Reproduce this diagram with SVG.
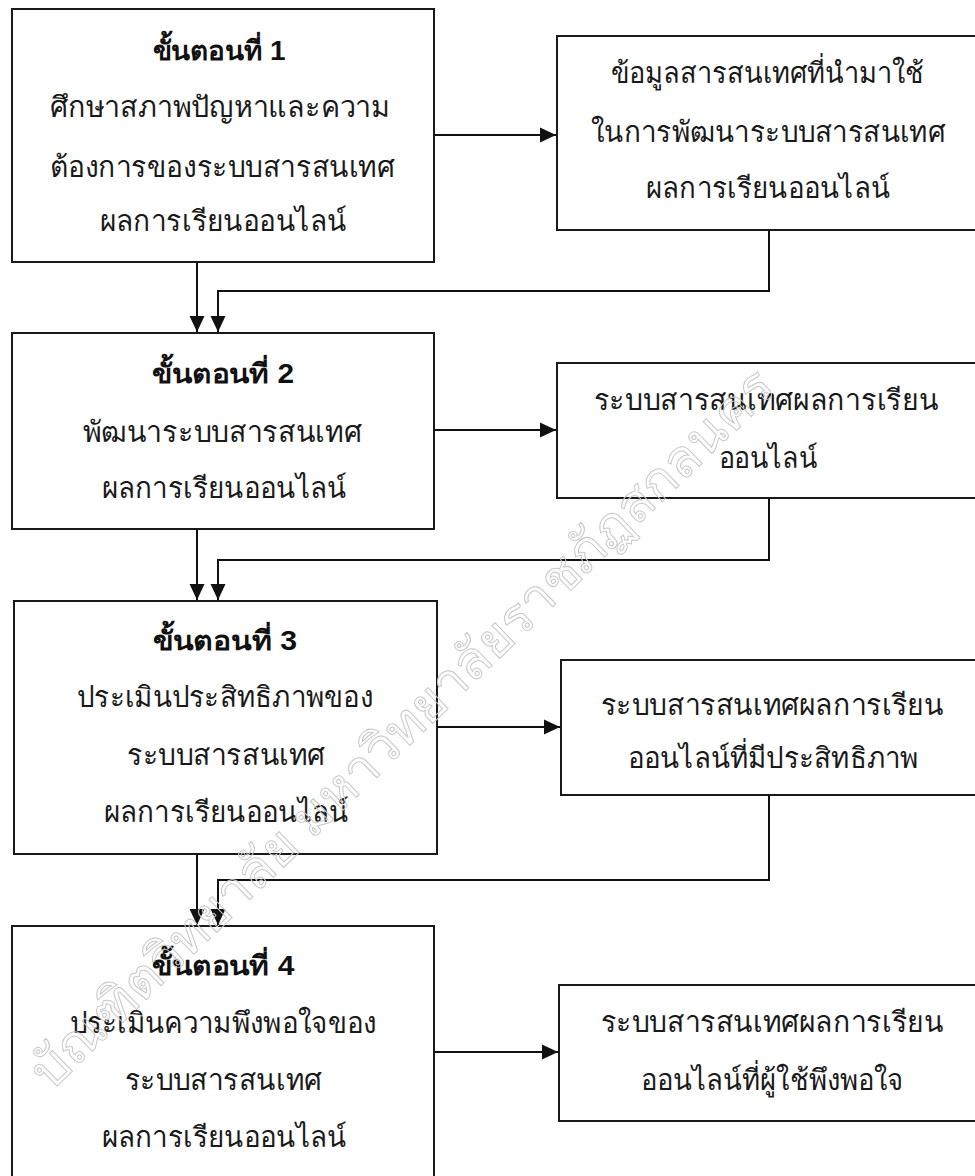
<svg xmlns="http://www.w3.org/2000/svg" width="975" height="1176" viewBox="0 0 975 1176">
<style>
.box{fill:#fff;stroke:#1a1a1a;stroke-width:2}
.t{font-family:"Liberation Sans","DejaVu Sans","Noto Sans",sans-serif;font-size:29px;fill:#1a1a1a;text-anchor:middle}
.h{font-weight:bold;font-size:27px;fill:#111}
.ln{fill:none;stroke:#111;stroke-width:2}
.wm{font-family:"Liberation Sans","DejaVu Sans","Noto Sans",sans-serif;font-size:52px;fill:none;stroke:#c8c8c8;stroke-width:1;text-anchor:middle}
</style>
<defs>
<marker id="ah" markerUnits="userSpaceOnUse" markerWidth="17" markerHeight="17" viewBox="0 0 17 17" refX="16" refY="8.5" orient="auto">
<path d="M0,1 L16,8.5 L0,16 Z" fill="#111"/>
</marker>
</defs>
<rect width="975" height="1176" fill="#fff"/>

<g id="step1">
<rect class="box" x="12" y="9" width="422" height="253"/>
<text class="t h" x="219" y="60" textLength="133" lengthAdjust="spacingAndGlyphs">ขั้นตอนที่ 1</text>
<text class="t" x="220" y="117" textLength="340" lengthAdjust="spacingAndGlyphs">ศึกษาสภาพปัญหาและความ</text>
<text class="t" x="222" y="177" textLength="345" lengthAdjust="spacingAndGlyphs">ต้องการของระบบสารสนเทศ</text>
<text class="t" x="223" y="231" textLength="247" lengthAdjust="spacingAndGlyphs">ผลการเรียนออนไลน์</text>
</g>

<g id="out1">
<rect class="box" x="557" y="36" width="430" height="194"/>
<text class="t" x="767" y="83" textLength="313" lengthAdjust="spacingAndGlyphs">ข้อมูลสารสนเทศที่นำมาใช้</text>
<text class="t" x="768" y="142" textLength="354" lengthAdjust="spacingAndGlyphs">ในการพัฒนาระบบสารสนเทศ</text>
<text class="t" x="768" y="198" textLength="244" lengthAdjust="spacingAndGlyphs">ผลการเรียนออนไลน์</text>
</g>

<g id="step2">
<rect class="box" x="12" y="333" width="422" height="196"/>
<text class="t h" x="223" y="383" textLength="142" lengthAdjust="spacingAndGlyphs">ขั้นตอนที่ 2</text>
<text class="t" x="222" y="442" textLength="279" lengthAdjust="spacingAndGlyphs">พัฒนาระบบสารสนเทศ</text>
<text class="t" x="224" y="498" textLength="245" lengthAdjust="spacingAndGlyphs">ผลการเรียนออนไลน์</text>
</g>

<g id="out2">
<rect class="box" x="557" y="363" width="430" height="135"/>
<text class="t" x="766" y="410" textLength="345" lengthAdjust="spacingAndGlyphs">ระบบสารสนเทศผลการเรียน</text>
<text class="t" x="768" y="468" textLength="99" lengthAdjust="spacingAndGlyphs">ออนไลน์</text>
</g>

<g id="step3">
<rect class="box" x="14" y="601" width="423" height="253"/>
<text class="t h" x="225" y="650" textLength="144" lengthAdjust="spacingAndGlyphs">ขั้นตอนที่ 3</text>
<text class="t" x="225" y="707" textLength="296" lengthAdjust="spacingAndGlyphs">ประเมินประสิทธิภาพของ</text>
<text class="t" x="226" y="765" textLength="198" lengthAdjust="spacingAndGlyphs">ระบบสารสนเทศ</text>
<text class="t" x="226" y="822" textLength="245" lengthAdjust="spacingAndGlyphs">ผลการเรียนออนไลน์</text>
</g>

<g id="out3">
<rect class="box" x="561" y="660" width="426" height="135"/>
<text class="t" x="772" y="715" textLength="343" lengthAdjust="spacingAndGlyphs">ระบบสารสนเทศผลการเรียน</text>
<text class="t" x="773" y="768" textLength="291" lengthAdjust="spacingAndGlyphs">ออนไลน์ที่มีประสิทธิภาพ</text>
</g>

<g id="step4">
<rect class="box" x="12" y="926" width="422" height="270"/>
<text class="t h" x="223" y="975" textLength="143" lengthAdjust="spacingAndGlyphs">ขั้นตอนที่ 4</text>
<text class="t" x="223" y="1033" textLength="307" lengthAdjust="spacingAndGlyphs">ประเมินความพึงพอใจของ</text>
<text class="t" x="223" y="1090" textLength="197" lengthAdjust="spacingAndGlyphs">ระบบสารสนเทศ</text>
<text class="t" x="224" y="1147" textLength="245" lengthAdjust="spacingAndGlyphs">ผลการเรียนออนไลน์</text>
</g>

<g id="out4">
<rect class="box" x="559" y="985" width="428" height="136"/>
<text class="t" x="772" y="1032" textLength="343" lengthAdjust="spacingAndGlyphs">ระบบสารสนเทศผลการเรียน</text>
<text class="t" x="772" y="1090" textLength="263" lengthAdjust="spacingAndGlyphs">ออนไลน์ที่ผู้ใช้พึงพอใจ</text>
</g>

<g id="connectors">
<path class="ln" d="M434,135 H556" marker-end="url(#ah)"/>
<path class="ln" d="M197,262 V332" marker-end="url(#ah)"/>
<path class="ln" d="M769,230 V291 H218 V332" marker-end="url(#ah)"/>
<path class="ln" d="M434,430 H556" marker-end="url(#ah)"/>
<path class="ln" d="M197,529 V600" marker-end="url(#ah)"/>
<path class="ln" d="M769,498 V560 H218 V600" marker-end="url(#ah)"/>
<path class="ln" d="M437,727 H560" marker-end="url(#ah)"/>
<path class="ln" d="M197,854 V925" marker-end="url(#ah)"/>
<path class="ln" d="M769,795 V880 H218 V925" marker-end="url(#ah)"/>
<path class="ln" d="M434,1052 H558" marker-end="url(#ah)"/>
</g>

<g id="watermark">
<text class="wm" transform="translate(402,728) rotate(-44)" x="0" y="18" textLength="1010" lengthAdjust="spacingAndGlyphs">บัณฑิตวิทยาลัย มหาวิทยาลัยราชภัฏสกลนคร</text>
</g>
</svg>
